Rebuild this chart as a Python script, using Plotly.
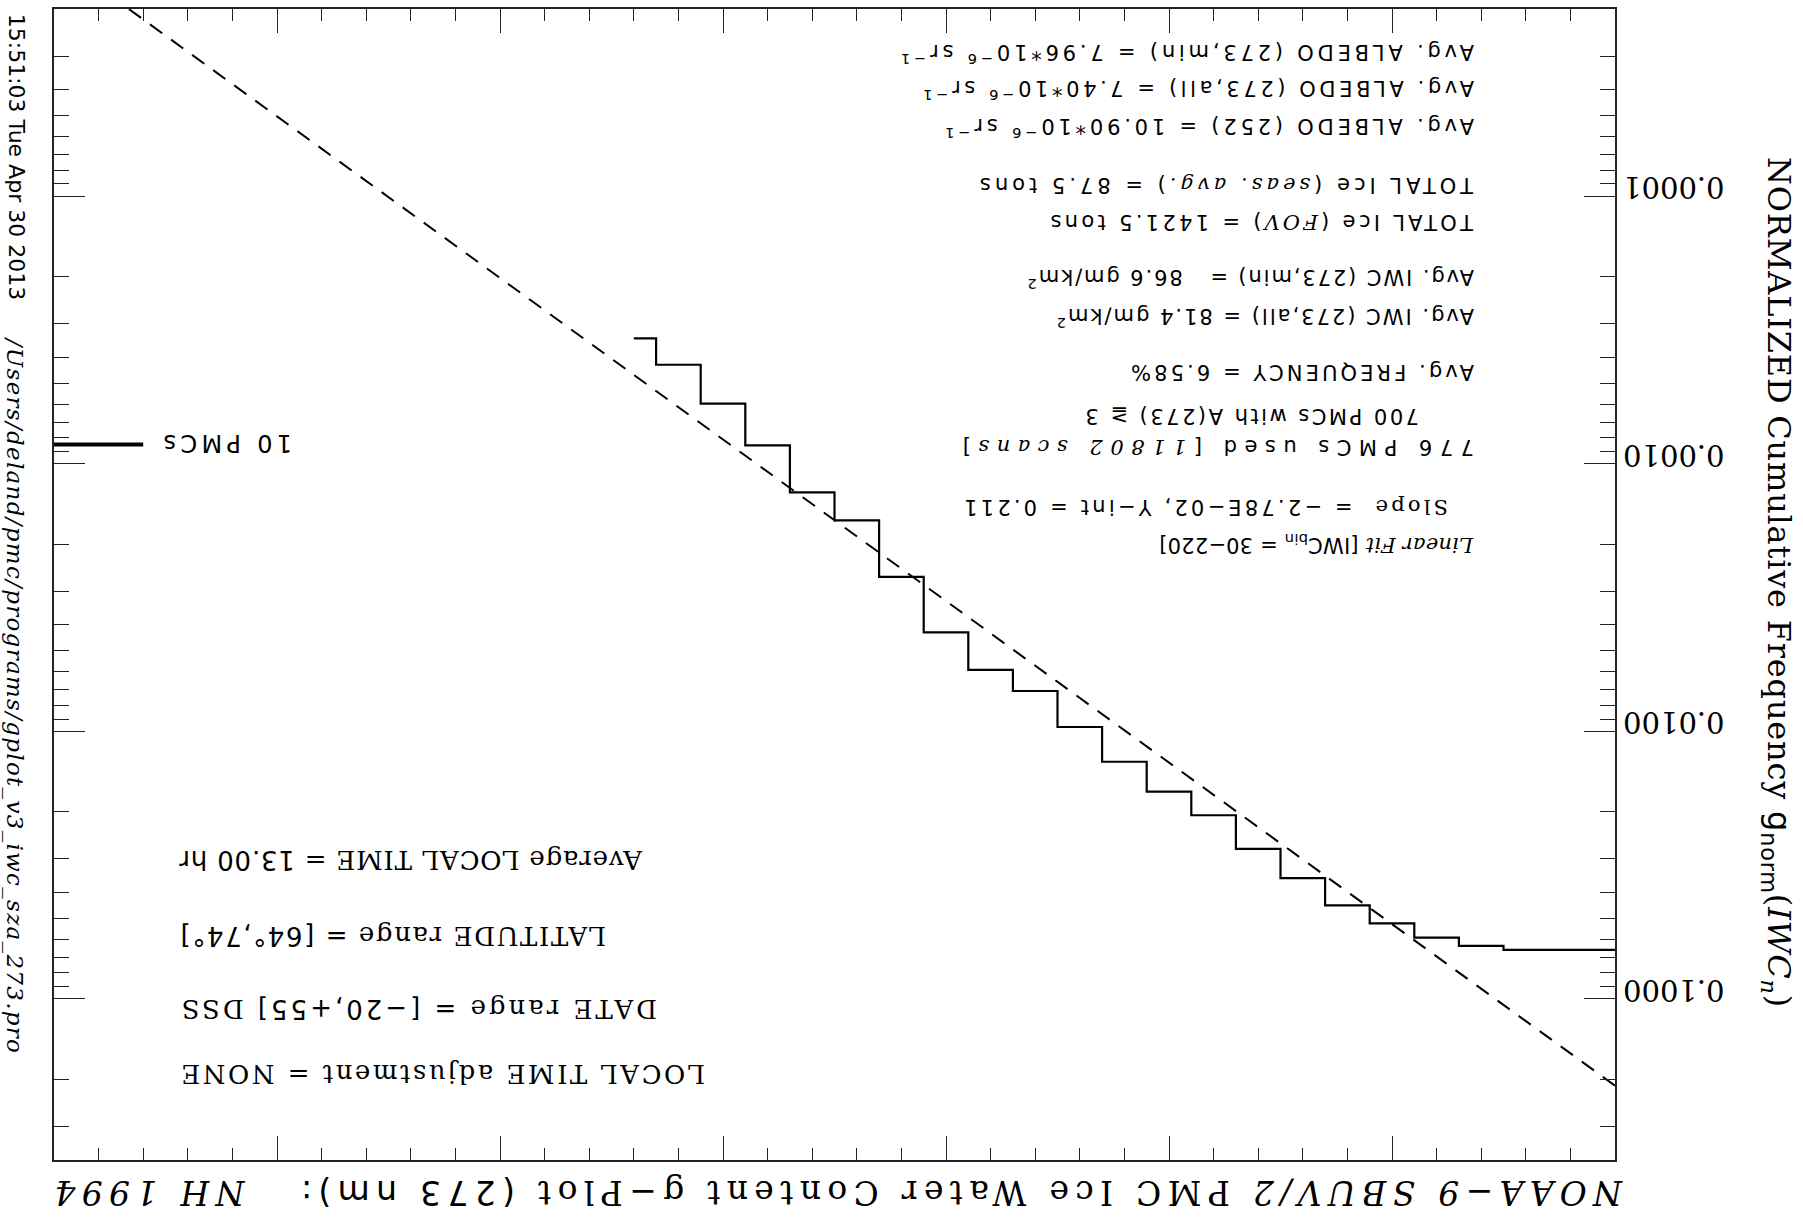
import math
import plotly.graph_objects as go

# ---------------- data ----------------
iwc_bins = [0, 10, 20, 30, 40, 50, 60, 70, 80, 90, 100, 110, 120, 130, 140,
            150, 160, 170, 180, 190, 200, 210, 220]
g_norm = [0.0656, 0.0656, 0.0656, 0.0634, 0.0590, 0.0522, 0.0447, 0.0354,
          0.0275, 0.0206, 0.0168, 0.0130, 0.00964, 0.00707, 0.00590, 0.00427,
          0.00265, 0.00163, 0.00128, 0.000854, 0.000597, 0.000427, 0.000340]

fit_slope = -2.78e-2
fit_yint = 0.211
fit_iwc = [0, 350]

n_scans = 11802
n_pmc_marker = 10
marker_iwc = [330, 350]

x_range = [350, 0]
y_range = [2e-5, 0.4]
y_ticks = [1e-4, 1e-3, 1e-2, 1e-1]
y_ticktext = ["0.0001", "0.0010", "0.0100", "0.1000"]

# ---------------- figure ----------------
W_FIG, H_FIG = 1803, 1221
PL, PR, PT, PB = 54, 1615, 7, 1160
PW, PH = PR - PL, PB - PT

SANS = "DejaVu Sans"
SERIF = "DejaVu Serif"

fig = go.Figure()

fig.add_trace(go.Scatter(
    x=iwc_bins, y=g_norm, mode="lines", line_shape="hvh",
    line=dict(color="black", width=2.2), hoverinfo="skip", showlegend=False))

fit_g = [fit_yint * math.exp(fit_slope * v) for v in fit_iwc]
fig.add_trace(go.Scatter(
    x=fit_iwc, y=fit_g, mode="lines",
    line=dict(color="black", width=2, dash="15px,11px"),
    hoverinfo="skip", showlegend=False))

marker_g = n_pmc_marker / n_scans
fig.add_trace(go.Scatter(
    x=marker_iwc, y=[marker_g, marker_g], mode="lines",
    line=dict(color="black", width=4), hoverinfo="skip", showlegend=False))

minor_vals = []
for e in range(-5, 0):
    for k in range(2, 10):
        v = k * 10 ** e
        if y_range[0] <= v <= y_range[1]:
            minor_vals.append(v)

fig.update_layout(
    width=W_FIG, height=H_FIG,
    margin=dict(l=PL, r=W_FIG - PR, t=PT, b=H_FIG - PB, pad=0),
    paper_bgcolor="white", plot_bgcolor="white",
    showlegend=False,
    xaxis=dict(
        range=x_range, showgrid=False, zeroline=False,
        showline=True, linecolor="#222", linewidth=1.5, mirror="ticks",
        ticks="inside", ticklen=24, tickwidth=1.3, tickcolor="#222",
        tick0=0, dtick=50, showticklabels=False,
        minor=dict(ticks="inside", ticklen=12, tickwidth=1.3,
                   tickcolor="#222", dtick=10, showgrid=False),
    ),
    yaxis=dict(
        type="log",
        range=[math.log10(y_range[1]), math.log10(y_range[0])],
        side="right", showgrid=False, zeroline=False,
        showline=True, linecolor="#222", linewidth=1.5, mirror="ticks",
        ticks="inside", ticklen=31, tickwidth=1.3, tickcolor="#222",
        tickvals=y_ticks, ticktext=y_ticktext, tickangle=180,
        tickfont=dict(family=SERIF, size=29, color="black"),
        ticklabelstandoff=102,
        minor=dict(ticks="inside", ticklen=15, tickwidth=1.3,
                   tickcolor="#222", tickvals=minor_vals, showgrid=False),
    ),
)


def px(x):
    return (x - PL) / PW


def py(y):
    return (PB - y) / PH


def sp(t, ls):
    return f'<span style="letter-spacing:{ls}px">{t}</span>'


def serif(t):
    return f'<span style="font-family:{SERIF}">{t}</span>'


def serif_it(t):
    return f'<span style="font-family:{SERIF};font-style:italic">{t}</span>'


def note(text, x, y, size, family=SANS, angle=180, xanchor="center",
         yanchor="middle", ls=0):
    if ls:
        text = sp(text, ls)
    fig.add_annotation(
        text=text, x=px(x), y=py(y), xref="paper", yref="paper",
        showarrow=False, textangle=angle, xanchor=xanchor, yanchor=yanchor,
        font=dict(family=family, size=size, color="black"), borderpad=0)


M = "\u2212"
NB = "\u00a0"

upper = [
    (f"Avg. ALBEDO (273,min) = 7.96*10<sup>{M}6</sup> sr<sup>{M}1</sup>", 1475, 52, 3.8),
    (f"Avg. ALBEDO (273,all) = 7.40*10<sup>{M}6</sup> sr<sup>{M}1</sup>", 1475, 88, 3.6),
    (f"Avg. ALBEDO (252) = 10.90*10<sup>{M}6</sup> sr<sup>{M}1</sup>", 1475, 126, 3.8),
    (f"TOTAL Ice ({serif_it('seas. avg.')}) = 87.5 tons", 1475, 184, 4.0),
    (f"TOTAL Ice ({serif_it('FOV')}) = 1421.5 tons", 1475, 221, 3.3),
    (f"Avg. IWC (273,min) ={NB}{NB} 86.6 gm/km<sup>2</sup>", 1475, 278, 1.9),
    (f"Avg. IWC (273,all) = 81.4 gm/km<sup>2</sup>", 1475, 316, 2.0),
    ("Avg. FREQUENCY = 6.58%", 1475, 370, 3.1),
    ("700 PMCs with A(273) \u2267 3", 1420, 414, 2.5),
    (f"776 PMCs used [{serif_it('11802 scans')}]", 1475, 446, 7.5),
    (f"{serif('Slope')}{NB} = {M}2.78E{M}02, Y{M}int = 0.211", 1449, 506, 3.2),
    (f"{serif_it('Linear Fit')} [IWC<sub>bin</sub> = 30{M}220]", 1475, 543, 0.2),
]
for t, xr, yc, ls in upper:
    note(t, xr, yc, 21, SANS, xanchor="right", ls=ls)

lower = [
    (f"{serif('Average LOCAL TIME =')} 13.00 hr", 178, 860, 0.8),
    (f"{serif('LATITUDE range')} = [64\u00b0,74\u00b0]", 178, 935, 1.6),
    (f"{serif('DATE range')} = [{M}20,+55] {serif('DSS')}", 178, 1008, 3.0),
    (f"{serif('LOCAL TIME adjustment = NONE')}", 178, 1074, 2.5),
]
for t, xl, yc, ls in lower:
    note(t, xl, yc, 26, SANS, xanchor="left", ls=ls)

note("10 PMCs", 226, 442, 24, SANS, ls=4.3)

title = (f"{serif_it(f'NOAA{M}9 SBUV/2')} {serif(f'PMC Ice Water Content g{M}Plot')}"
         f" (273 nm):{NB}{NB} {serif_it('NH 1994')}")
note(title, 836, 1192, 33, SANS, ls=6.3)

ytitle = (f"{serif('NORMALIZED Cumulative Frequency')} g<sub>norm</sub>"
          f"{serif('(')}{serif_it('IWC<sub>n</sub>')}{serif(')')}")
note(ytitle, 1777, 581, 32, SANS, angle=90, ls=0.8)

note("15:51:03 Tue Apr 30 2013", 16, 155, 22, SANS, angle=90)
note("/Users/deland/pmc/programs/gplot_v3_iwc_sza_273.pro", 15, 694, 23,
     SERIF, angle=90, ls=1.3)
fig.layout.annotations[-1].font.style = "italic"

fig.write_html("out.html", config={"displayModeBar": False},
               post_script="document.body.style.margin='0';"
                           "document.body.style.overflow='hidden';")
